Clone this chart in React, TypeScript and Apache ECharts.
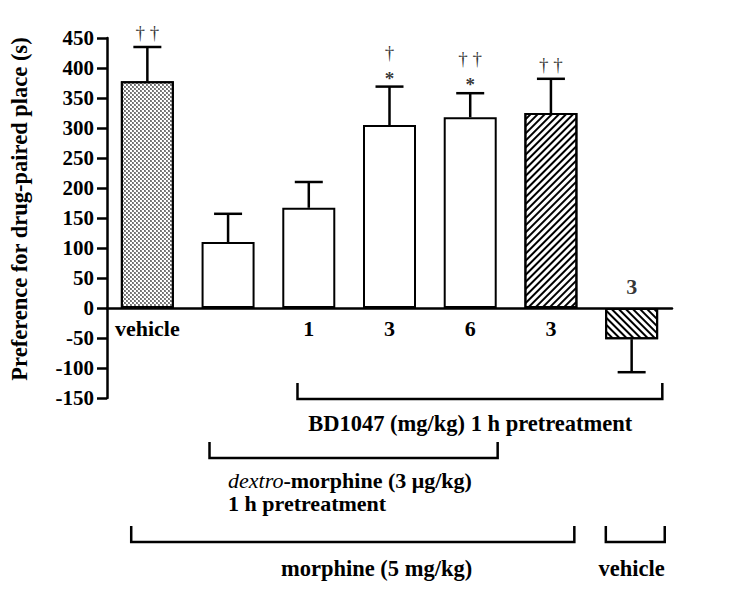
import React, { useEffect, useRef } from "react";
import * as echarts from "echarts";

const categories = ["vehicle", "", "1", "3", "6", "3", ""];
const means = [378, 110, 167, 305, 318, 325, -52];
const sems = [57, 47, 43, 64, 40, 57, 55];
const stars = ["", "", "", "*", "*", "", ""];
const daggers = ["† †", "", "", "†", "† †", "† †", ""];
const doseAbove = ["", "", "", "", "", "", "3"];
const yMin = -150;
const yMax = 450;
const yStep = 50;

const FONT = '"Liberation Serif", "Times New Roman", Times, serif';

const errEnd = (i: number) => (means[i] >= 0 ? means[i] + sems[i] : means[i] - sems[i]);

const dotsDecal = {
  symbol: "circle",
  symbolSize: 0.75,
  color: "#000",
  backgroundColor: "#fff",
  dashArrayX: [
    [2, 2],
    [0, 2, 2, 0],
  ],
  dashArrayY: [2, 0],
  rotation: 0,
};
const hatch = (rot: number) => ({
  symbol: "rect",
  symbolSize: 1,
  color: "#000",
  backgroundColor: "#fff",
  dashArrayX: [1, 0],
  dashArrayY: [2, 3],
  rotation: rot,
});

export default function App() {
  const ref = useRef<HTMLDivElement>(null);
  useEffect(() => {
    if (!ref.current) return;
    const chart = echarts.init(ref.current, undefined, { renderer: "svg" });

    const barData = means.map((m, i) => {
      const item: any = { value: m, itemStyle: { color: "#fff" } };
      if (i === 0) item.itemStyle.decal = dotsDecal;
      if (i === 5) item.itemStyle.decal = hatch(-Math.PI / 4);
      if (i === 6) item.itemStyle.decal = hatch(Math.PI / 4);
      return item;
    });

    const starData = stars
      .map((s, i) => (s ? { value: [i, errEnd(i)], text: s } : null))
      .filter(Boolean) as any[];
    const daggerData = daggers
      .map((d, i) =>
        d
          ? {
              value: [i, errEnd(i)],
              text: d,
              label: { offset: [0, stars[i] ? -20 : 0] },
            }
          : null
      )
      .filter(Boolean) as any[];
    const doseData = doseAbove
      .map((d, i) => (d ? { value: [i, 0], text: d } : null))
      .filter(Boolean) as any[];

    chart.setOption({
      animation: false,
      backgroundColor: "#fff",
      grid: { left: 106, right: 78, top: 38, bottom: 209, containLabel: false },
      xAxis: {
        type: "category",
        data: categories,
        axisLine: { onZero: true, lineStyle: { color: "#000", width: 2.5 } },
        axisTick: { show: false },
        axisLabel: {
          interval: 0,
          color: "#000",
          fontFamily: FONT,
          fontWeight: "bold",
          fontSize: 22,
          margin: -81,
        },
        splitLine: { show: false },
      },
      yAxis: {
        type: "value",
        min: yMin,
        max: yMax,
        interval: yStep,
        name: "Preference for drug-paired place (s)",
        nameLocation: "middle",
        nameGap: 76,
        nameTextStyle: {
          color: "#000",
          fontFamily: FONT,
          fontWeight: "bold",
          fontSize: 22.5,
          padding: [0, 0, 0, 18],
        },
        axisLine: { show: true, lineStyle: { color: "#000", width: 2.5 } },
        axisTick: { show: true, length: 10, lineStyle: { color: "#000", width: 2.5 } },
        axisLabel: {
          color: "#000",
          fontFamily: FONT,
          fontWeight: "bold",
          fontSize: 21,
          margin: 13,
        },
        splitLine: { show: false },
      },
      series: [
        {
          type: "bar",
          data: barData,
          barWidth: 53,
          itemStyle: { borderColor: "#000", borderWidth: 2 },
          z: 2,
        },
        {
          type: "custom",
          z: 3,
          encode: { x: 0, y: 1 },
          data: means.map((m, i) => [i, m, sems[i]]),
          renderItem: (params: any, api: any) => {
            const i = api.value(0);
            const m = api.value(1);
            const s = api.value(2);
            const end = m >= 0 ? m + s : m - s;
            const p0 = api.coord([i, m]);
            const p1 = api.coord([i, end]);
            const half = 14;
            const st = { stroke: "#000", lineWidth: 2.5 };
            return {
              type: "group",
              children: [
                { type: "line", shape: { x1: p0[0], y1: p0[1], x2: p1[0], y2: p1[1] }, style: st },
                { type: "line", shape: { x1: p1[0] - half, y1: p1[1], x2: p1[0] + half, y2: p1[1] }, style: st },
              ],
            };
          },
        },
        {
          type: "scatter",
          symbolSize: 0,
          z: 4,
          data: starData,
          label: {
            show: true,
            position: "top",
            distance: -1,
            formatter: (p: any) => p.data.text,
            color: "#000",
            fontFamily: FONT,
            fontWeight: "bold",
            fontSize: 19,
          },
        },
        {
          type: "scatter",
          symbolSize: 0,
          z: 4,
          data: daggerData,
          label: {
            show: true,
            position: "top",
            distance: 5,
            formatter: (p: any) => p.data.text,
            color: "#000",
            fontFamily: FONT,
            fontWeight: "normal",
            fontSize: 19,
          },
        },
        {
          type: "scatter",
          symbolSize: 0,
          z: 4,
          data: doseData,
          label: {
            show: true,
            position: "top",
            distance: 11,
            formatter: (p: any) => p.data.text,
            color: "#000",
            fontFamily: FONT,
            fontWeight: "bold",
            fontSize: 22,
          },
        },
      ],
    });

    const c0 = chart.convertToPixel({ xAxisIndex: 0 }, 0) as number;
    const c1 = chart.convertToPixel({ xAxisIndex: 0 }, 1) as number;
    const band = c1 - c0;
    const px = (pos: number) => c0 + pos * band;
    const lineStyle = { stroke: "#000", lineWidth: 2.5, fill: "none" };
    const bracket = (from: number, to: number, y: number, h: number) => ({
      type: "polyline",
      shape: {
        points: [
          [px(from), y - h],
          [px(from), y],
          [px(to), y],
          [px(to), y - h],
        ],
      },
      style: lineStyle,
    });
    const txt = (text: string, x: number, y: number, align = "center") => ({
      type: "text",
      x,
      y,
      style: {
        text,
        fill: "#000",
        fontFamily: FONT,
        fontWeight: "bold",
        fontSize: 22.5,
        align,
        verticalAlign: "middle",
      },
    });
    const lineTxt = (text: string, x: number, y: number) => ({
      type: "text",
      x,
      y,
      style: {
        text,
        fill: "#000",
        align: "left",
        verticalAlign: "middle",
        fontFamily: FONT,
        fontSize: 22,
        rich: {
          i: { fontFamily: FONT, fontSize: 22, fontStyle: "italic", fontWeight: "normal", fill: "#000" },
          b: { fontFamily: FONT, fontSize: 22, fontWeight: "bold", fill: "#000" },
        },
      },
    });

    chart.setOption({
      graphic: [
        bracket(1.86, 6.38, 399, 16),
        txt("BD1047 (mg/kg) 1 h pretreatment", px(4), 423),
        bracket(0.77, 4.34, 458, 16),
        lineTxt("{i|dextro}{b|-morphine (3 μg/kg)}", px(1), 480),
        lineTxt("{b|1 h pretreatment}", px(1), 503),
        bracket(-0.2, 5.29, 542, 16),
        txt("morphine (5 mg/kg)", px(2.84), 568),
        bracket(5.68, 6.41, 542, 16),
        txt("vehicle", px(6), 568),
      ],
    });

    return () => chart.dispose();
  }, []);

  return (
    <div
      ref={ref}
      style={{ position: "fixed", left: 0, top: 0, width: 750, height: 607, background: "#fff" }}
    />
  );
}
